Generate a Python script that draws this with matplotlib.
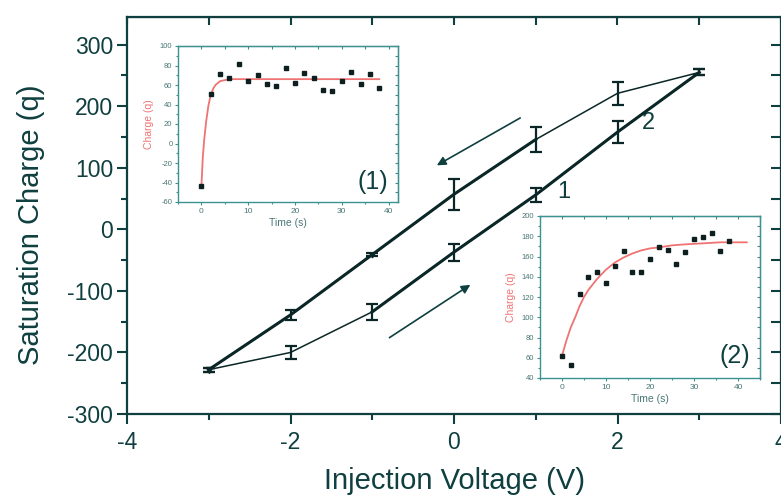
import matplotlib
matplotlib.use("Agg")
import matplotlib.pyplot as plt
from matplotlib.ticker import MultipleLocator

plt.rcParams['font.family'] = ['Liberation Sans', 'DejaVu Sans']
plt.rcParams['axes.unicode_minus'] = False

# ---------------- data ----------------
voltage = [-3, -2, -1, 0, 1, 2, 3]
charge_upper = [-228, -139, -41, 57, 146, 221, 255]
err_upper = [3, 8, 2, 25, 20, 19, 5]
charge_lower = [-228, -200, -134, -37, 56, 158, 255]
err_lower = [3, 11, 13, 14, 11, 18, 5]

# inset (1): charge vs time at 1 V
t1 = [0, 2, 4, 6, 8, 10, 12, 14, 16, 18, 20, 22, 24, 26, 28, 30, 32, 34, 36, 38]
q1 = [-44, 51, 71, 67, 82, 64, 70, 61, 59, 77, 62, 72, 67, 55, 54, 64, 73, 61, 71, 57]
fit_t1 = [0, 0.3, 0.6, 1.0, 1.5, 2.0, 2.5, 3.0, 3.5, 4.0, 5.0, 6.0, 8.0, 12, 20, 38]
fit_q1 = [-44, -14, 4, 22, 39, 50, 56, 60, 62, 64, 65, 66, 66, 66, 66, 66]

# inset (2): charge vs time at 2 V
t2 = [0, 2, 4, 6, 8, 10, 12, 14, 16, 18, 20, 22, 24, 26, 28, 30, 32, 34, 36, 38]
q2 = [62, 53, 123, 140, 145, 134, 151, 165, 145, 145, 158, 169, 166, 153, 164, 177, 179, 183, 165, 175]
fit_t2 = [0, 1, 2, 3, 4, 5, 6, 8, 10, 12, 14, 16, 18, 20, 22, 25, 28, 32, 36, 42]
fit_q2 = [62, 77, 90, 100, 111, 120, 127, 138, 147, 154, 159, 163, 166, 168, 169, 171, 172, 173, 174, 174]

# ---------------- style ----------------
W, H = 781, 499
MAIN = '#0f3f3f'
LINE = '#0a2626'
TEAL = '#3a9292'
INTXT = '#4a7676'
RED = '#ef7373'


def px_axes(l, t, r, b):
    return [l / W, 1 - b / H, (r - l) / W, (b - t) / H]


fig = plt.figure(figsize=(W / 100, H / 100), dpi=100)
ax = fig.add_axes(px_axes(127, 17, 781, 414))

# thin full branches with error bars
ax.errorbar(voltage, charge_upper, yerr=err_upper, color=LINE, lw=1.1,
            elinewidth=1.6, capsize=4.5, capthick=1.6, zorder=3)
ax.errorbar(voltage, charge_lower, yerr=err_lower, color=LINE, lw=1.1,
            elinewidth=1.6, capsize=4.5, capthick=1.6, zorder=3)
# thick straight parts
ax.plot(voltage[:5], charge_upper[:5], color=LINE, lw=2.2, zorder=4)
ax.plot(voltage[2:], charge_lower[2:], color=LINE, lw=2.2, zorder=4)
ax.plot([voltage[0]], [charge_upper[0]], marker='v', ms=4, color=LINE, zorder=5)
ax.plot([voltage[2]], [charge_upper[2]], marker='v', ms=3.5, color=LINE, zorder=5)

# arrows
ax.annotate('', xy=(-0.21, 104), xytext=(0.81, 181),
            arrowprops=dict(arrowstyle='-|>', color=MAIN, lw=1.2,
                            mutation_scale=13, shrinkA=0, shrinkB=0))
ax.annotate('', xy=(0.20, -90), xytext=(-0.79, -176),
            arrowprops=dict(arrowstyle='-|>', color=MAIN, lw=1.2,
                            mutation_scale=13, shrinkA=0, shrinkB=0))
ax.text(1.34, 61, '1', fontsize=17, color=MAIN, ha='center', va='center')
ax.text(2.38, 172, '2', fontsize=17, color=MAIN, ha='center', va='center')

ax.set_xlim(-4, 4)
ax.set_ylim(-300, 345)
ax.xaxis.set_major_locator(MultipleLocator(2))
ax.xaxis.set_minor_locator(MultipleLocator(1))
ax.yaxis.set_major_locator(MultipleLocator(100))
ax.yaxis.set_minor_locator(MultipleLocator(50))
ax.set_yticks([-300, -200, -100, 0, 100, 200, 300])
ax.tick_params(which='both', direction='out', color=MAIN, labelcolor=MAIN,
               labelsize=16.5, width=1.5)
ax.tick_params(which='major', length=7)
ax.tick_params(which='minor', length=4)
ax.tick_params(axis='x', which='major', pad=5)
ax.tick_params(axis='y', which='major', pad=3)
for s in ax.spines.values():
    s.set_color(MAIN)
    s.set_linewidth(1.6)

# mirrored inward ticks on top and right
axt = ax.secondary_xaxis('top')
axt.xaxis.set_major_locator(MultipleLocator(2))
axt.xaxis.set_minor_locator(MultipleLocator(1))
axt.tick_params(which='both', direction='in', length=6, width=1.5, color=MAIN,
                labeltop=False)
axr = ax.secondary_yaxis('right')
axr.yaxis.set_major_locator(MultipleLocator(100))
axr.yaxis.set_minor_locator(MultipleLocator(50))
axr.tick_params(which='both', direction='in', length=7, width=1.5, color=MAIN,
                labelright=False)

ax.set_xlabel('Injection Voltage (V)', fontsize=21, color=MAIN)
ax.set_ylabel('Saturation Charge (q)', fontsize=21, color=MAIN)
ax.xaxis.set_label_coords(0.5, -0.133)
ax.yaxis.set_label_coords(-0.126, 0.476)


def style_inset(a, xlims, ylims, ymaj, ymin):
    a.set_facecolor('white')
    a.set_xlim(*xlims)
    a.set_ylim(*ylims)
    a.xaxis.set_major_locator(MultipleLocator(10))
    a.xaxis.set_minor_locator(MultipleLocator(5))
    a.yaxis.set_major_locator(MultipleLocator(ymaj))
    a.yaxis.set_minor_locator(MultipleLocator(ymin))
    a.tick_params(which='both', direction='out', color=TEAL, labelcolor=INTXT,
                  labelsize=5.5, width=0.8, pad=1.5)
    a.tick_params(which='major', length=2.5)
    a.tick_params(which='minor', length=1.5)
    a.tick_params(axis='x', labelsize=6, pad=2)
    for s in a.spines.values():
        s.set_color(TEAL)
        s.set_linewidth(1.0)
    tx = a.secondary_xaxis('top')
    tx.xaxis.set_major_locator(MultipleLocator(10))
    tx.xaxis.set_minor_locator(MultipleLocator(5))
    tx.tick_params(which='both', direction='in', length=2, width=0.8,
                   color=TEAL, labeltop=False)
    ry = a.secondary_yaxis('right')
    ry.yaxis.set_major_locator(MultipleLocator(ymaj))
    ry.yaxis.set_minor_locator(MultipleLocator(ymin))
    ry.tick_params(which='both', direction='in', length=2, width=0.8,
                   color=TEAL, labelright=False)
    a.set_xlabel('Time (s)', fontsize=7.5, color=INTXT, labelpad=2)
    a.set_ylabel('Charge (q)', fontsize=7.5, color=RED, labelpad=4)


# inset 1
a1 = fig.add_axes(px_axes(178, 46, 398, 202), zorder=10)
a1.plot(fit_t1, fit_q1, color=RED, lw=1.3, zorder=2)
a1.plot(t1, q1, 's', color='#0d1f1f', ms=3, zorder=3)
style_inset(a1, (-5, 42), (-60, 100), 20, 10)
a1.text(0.885, 0.13, '(1)', transform=a1.transAxes, fontsize=18,
        color=MAIN, ha='center', va='center')

# inset 2
a2 = fig.add_axes(px_axes(540, 216, 760, 378), zorder=10)
a2.plot(fit_t2, fit_q2, color=RED, lw=1.3, zorder=2)
a2.plot(t2, q2, 's', color='#0d1f1f', ms=3, zorder=3)
style_inset(a2, (-5, 45), (40, 200), 20, 10)
a2.text(0.886, 0.134, '(2)', transform=a2.transAxes, fontsize=18,
        color=MAIN, ha='center', va='center')

fig.savefig('out.png', dpi=100)
